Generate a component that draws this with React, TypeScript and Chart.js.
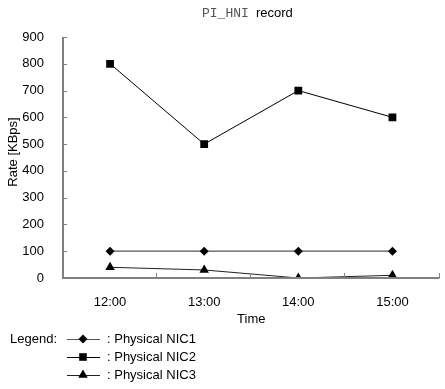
import React, { useEffect, useRef } from "react";
import { Chart, registerables } from "chart.js";

Chart.register(...registerables);

const categories = ["12:00", "13:00", "14:00", "15:00"];
const nic1 = [100, 100, 100, 100];
const nic2 = [800, 500, 700, 600];
const nic3 = [40, 30, 0, 10];
const seriesNames = ["Physical NIC1", "Physical NIC2", "Physical NIC3"];
const yTicks = [0, 100, 200, 300, 400, 500, 600, 700, 800, 900];

const SANS = "'Liberation Sans', Arial, sans-serif";
const MONO = "'Liberation Mono', 'DejaVu Sans Mono', monospace";
const AXIS_COLOR = "#808080";

function drawMarker(ctx: CanvasRenderingContext2D, style: string, x: number, y: number) {
  ctx.save();
  ctx.fillStyle = "#000";
  ctx.beginPath();
  if (style === "rectRot") {
    const r = 4.5;
    ctx.moveTo(x, y - r);
    ctx.lineTo(x + r, y);
    ctx.lineTo(x, y + r);
    ctx.lineTo(x - r, y);
    ctx.closePath();
  } else if (style === "rect") {
    const s = 3.8;
    ctx.rect(x - s, y - s, 2 * s, 2 * s);
  } else {
    const r = 5.5;
    ctx.moveTo(x, y - r);
    ctx.lineTo(x + r * 0.87, y + r * 0.5);
    ctx.lineTo(x - r * 0.87, y + r * 0.5);
    ctx.closePath();
  }
  ctx.fill();
  ctx.restore();
}

const decorPlugin = {
  id: "decor",
  afterDraw(chart: any) {
    const ctx: CanvasRenderingContext2D = chart.ctx;
    const { left, right, top, bottom } = chart.chartArea;
    const xs = chart.scales.x;
    const ys = chart.scales.y;
    ctx.save();
    // axes
    ctx.strokeStyle = AXIS_COLOR;
    ctx.lineWidth = 2;
    ctx.beginPath();
    ctx.moveTo(left, top);
    ctx.lineTo(left, bottom);
    ctx.lineTo(right, bottom);
    ctx.stroke();
    ctx.lineWidth = 1;
    // y ticks (inside)
    ctx.beginPath();
    yTicks.forEach((v) => {
      const y = Math.round(ys.getPixelForValue(v)) + 0.5;
      ctx.moveTo(left, y);
      ctx.lineTo(left + 4, y);
    });
    ctx.stroke();
    // x ticks at category boundaries
    ctx.beginPath();
    for (let i = 1; i <= categories.length; i++) {
      const xb =
        i < categories.length
          ? (xs.getPixelForValue(i - 1) + xs.getPixelForValue(i)) / 2
          : right;
      const x = Math.round(xb) - 0.5;
      ctx.moveTo(x, bottom);
      ctx.lineTo(x, bottom - 5);
    }
    ctx.stroke();

    // title
    ctx.textBaseline = "alphabetic";
    ctx.textAlign = "left";
    ctx.font = "13px " + MONO;
    ctx.fillStyle = "#555";
    ctx.fillText("PI_HNI", 202, 17);
    ctx.font = "13px " + SANS;
    ctx.fillStyle = "#000";
    ctx.fillText("record", 256, 17);

    // axis titles
    ctx.font = "13px " + SANS;
    ctx.textAlign = "center";
    ctx.textBaseline = "middle";
    ctx.fillText("Time", (left + right) / 2, 319);
    ctx.save();
    ctx.translate(13, 152);
    ctx.rotate(-Math.PI / 2);
    ctx.fillText("Rate [KBps]", 0, 0);
    ctx.restore();

    // legend
    const rows = [339, 357, 375];
    const markers = ["rectRot", "rect", "triangle"];
    const lineColors = ["#555", "#000", "#222"];
    ctx.textAlign = "left";
    ctx.fillText("Legend:", 10, rows[0]);
    rows.forEach((ry, i) => {
      ctx.strokeStyle = lineColors[i];
      ctx.lineWidth = 1;
      ctx.beginPath();
      ctx.moveTo(67, ry + 0.5);
      ctx.lineTo(100, ry + 0.5);
      ctx.stroke();
      drawMarker(ctx, markers[i], 83, ry);
      ctx.fillStyle = "#000";
      ctx.fillText(": " + seriesNames[i], 107, ry);
    });
    ctx.restore();
  },
};

export default function App() {
  const ref = useRef<HTMLCanvasElement | null>(null);
  useEffect(() => {
    if (!ref.current) return;
    const chart = new Chart(ref.current, {
      type: "line",
      data: {
        labels: categories,
        datasets: [
          {
            label: seriesNames[0],
            data: nic1,
            borderColor: "#555",
            borderWidth: 1.2,
            pointStyle: "rectRot",
            pointRadius: 4.5,
            pointBackgroundColor: "#000",
            pointBorderColor: "#000",
            pointBorderWidth: 0,
          },
          {
            label: seriesNames[1],
            data: nic2,
            borderColor: "#000",
            borderWidth: 1,
            pointStyle: "rect",
            pointRadius: 5.5,
            pointBackgroundColor: "#000",
            pointBorderColor: "#000",
            pointBorderWidth: 0,
          },
          {
            label: seriesNames[2],
            data: nic3,
            borderColor: "#222",
            borderWidth: 1,
            pointStyle: "triangle",
            pointRadius: 5.5,
            pointBackgroundColor: "#000",
            pointBorderColor: "#000",
            pointBorderWidth: 0,
          },
        ],
      },
      options: {
        responsive: false,
        animation: false,
        layout: { padding: { left: 0, top: 37, right: 3, bottom: 0 } },
        plugins: { legend: { display: false }, title: { display: false }, tooltip: { enabled: false } },
        scales: {
          x: {
            type: "category",
            offset: true,
            grid: { display: false },
            border: { display: false },
            ticks: { font: { family: SANS, size: 13 }, color: "#000", padding: 9, maxRotation: 0, autoSkip: false },
            afterFit: (s: any) => {
              s.height = 111;
            },
          },
          y: {
            min: 0,
            max: 900,
            grid: { display: false },
            border: { display: false },
            ticks: { stepSize: 100, font: { family: SANS, size: 13 }, color: "#000", padding: 11 },
            afterFit: (s: any) => {
              s.width = 63;
            },
          },
        },
      },
      plugins: [decorPlugin],
    });
    return () => chart.destroy();
  }, []);
  return (
    <div style={{ position: "absolute", left: 0, top: 0, width: 445, height: 389, background: "#fff" }}>
      <canvas ref={ref} width={445} height={389} />
    </div>
  );
}
